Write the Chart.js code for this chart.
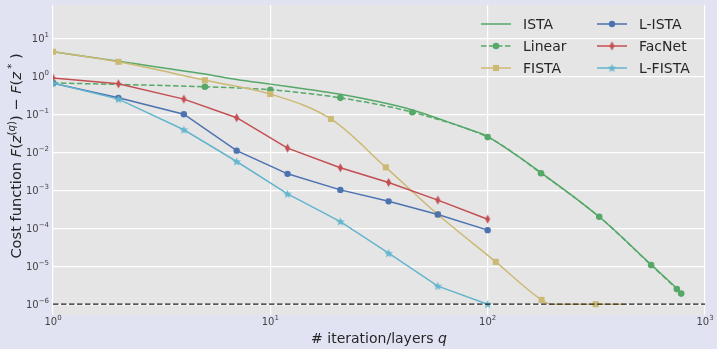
<!DOCTYPE html>
<html>
<head>
<meta charset="utf-8">
<script src="https://cdn.jsdelivr.net/npm/chart.js@4.4.0/dist/chart.umd.min.js"></script>
<style>
  html, body { margin: 0; padding: 0; background: #e1e3f3; }
  #wrap { width: 717px; height: 349px; }
</style>
</head>
<body>
<div id="wrap"><canvas id="costChart" width="717" height="349"></canvas></div>
<script>
// values (log-log axes)
const istaX = [1, 2, 3, 5, 7, 10, 15, 21, 30, 45, 65, 83, 100, 176, 326, 565, 742, 777];
const istaY = [4.4, 2.5, 1.75, 1.15, 0.82, 0.62, 0.45, 0.336, 0.226, 0.13, 0.064, 0.039, 0.026, 0.0029, 2.0e-4, 1.1e-5, 2.6e-6, 1.8e-6];

const linearX = [1, 5, 10, 21, 45, 100, 176, 326, 565, 742, 777];
const linearY = [0.67, 0.53, 0.44, 0.27, 0.113, 0.025, 0.0028, 2.0e-4, 1.07e-5, 2.5e-6, 1.9e-6];

const fistaX = [1, 2, 5, 10, 19, 34, 59, 109, 177, 195, 314, 437];
const fistaY = [4.4, 2.4, 0.785, 0.34, 0.075, 0.004, 2.3e-4, 1.3e-5, 1.3e-6, 1.0e-6, 1.0e-6, 1.0e-6];
const fistaMarks = [1, 2, 5, 10, 19, 34, 59, 109, 177, 314];

// learned networks share the layer grid
const layersX = [1, 2, 4, 7, 12, 21, 35, 59, 100];
const listaY = [0.65, 0.27, 0.1, 0.011, 0.0027, 0.00102, 5.1e-4, 2.3e-4, 8.9e-5];
const facnetY = [0.9, 0.63, 0.25, 0.081, 0.0128, 0.0039, 0.0016, 5.5e-4, 1.73e-4];
const lfistaY = [0.66, 0.25, 0.039, 0.0057, 8.0e-4, 1.5e-4, 2.2e-5, 3.0e-6, 1.0e-6];

const targetLevel = 1e-6;
const xRange = [1, 1000];
const yRange = [5.2e-7, 75];
const xTicks = [1, 10, 100, 1000];
const yTicks = [1e-6, 1e-5, 1e-4, 1e-3, 1e-2, 1e-1, 1, 10];

const FONT = '"DejaVu Sans", sans-serif';
const TXT = '#262626';

function pts(xs, ys) { return xs.map((x, i) => ({ x: x, y: ys[i] })); }

// little marker images (matplotlib-like thin diamond and filled star)
function diamondImg(color) {
  const c = document.createElement('canvas');
  c.width = 7; c.height = 11;
  const g = c.getContext('2d');
  g.fillStyle = color;
  g.beginPath();
  g.moveTo(3.5, 1); g.lineTo(6, 5.5); g.lineTo(3.5, 10); g.lineTo(1, 5.5);
  g.closePath(); g.fill();
  return c;
}
function starImg(color) {
  const c = document.createElement('canvas');
  c.width = 11; c.height = 11;
  const g = c.getContext('2d');
  g.fillStyle = color;
  g.beginPath();
  for (let i = 0; i < 10; i++) {
    const r = i % 2 ? 1.9 : 4.6;
    const a = -Math.PI / 2 + i * Math.PI / 5;
    const px = 5.5 + r * Math.cos(a), py = 5.8 + r * Math.sin(a);
    i ? g.lineTo(px, py) : g.moveTo(px, py);
  }
  g.closePath(); g.fill();
  return c;
}

const green = '#55a868', yellow = '#ccb974', blue = '#4c72b0', red = '#c44e52', cyan = '#64b5cd';

const series = [
  { label: 'ISTA', data: pts(istaX, istaY), borderColor: green, backgroundColor: green,
    pointRadius: 0, tension: 0.35 },
  { label: 'Linear', data: pts(linearX, linearY), borderColor: green, backgroundColor: green,
    borderDash: [5.5, 2.5], pointRadius: 3.3, pointStyle: 'circle', tension: 0.3 },
  { label: 'FISTA', data: pts(fistaX, fistaY), borderColor: yellow, backgroundColor: yellow,
    pointStyle: 'rect', cubicInterpolationMode: 'monotone',
    pointRadius: (c) => fistaMarks.includes(fistaX[c.dataIndex]) ? 4.3 : 0 },
  { label: 'L-ISTA', data: pts(layersX, listaY), borderColor: blue, backgroundColor: blue,
    pointRadius: 3.2, pointStyle: 'circle' },
  { label: 'FacNet', data: pts(layersX, facnetY), borderColor: red, backgroundColor: red,
    pointRadius: 4, pointStyle: diamondImg(red) },
  { label: 'L-FISTA', data: pts(layersX, lfistaY), borderColor: cyan, backgroundColor: cyan,
    pointRadius: 4, pointStyle: starImg(cyan) },
];

const datasets = series.map((s, i) => Object.assign({
  showLine: true, borderWidth: 1.5, pointBorderWidth: 0, pointHoverRadius: 0,
  order: series.length - i + 1, legendName: s.label
}, s));
datasets.push({
  label: 'target', data: pts(xRange, [targetLevel, targetLevel]), showLine: true,
  borderColor: '#222', borderWidth: 1.3, borderDash: [5.5, 2.5], pointRadius: 0, order: 0
});

function supParts(exp) {
  return String(exp).replace('-', '\u2212');
}

const decor = {
  id: 'decor',
  beforeDraw(chart) {
    const { ctx, chartArea: a } = chart;
    ctx.save();
    ctx.fillStyle = '#e1e3f3';
    ctx.fillRect(0, 0, chart.width, chart.height);
    ctx.fillStyle = '#e5e5e5';
    ctx.fillRect(a.left, a.top, a.right - a.left, a.bottom - a.top);
    ctx.restore();
  },
  afterDraw(chart) {
    const { ctx, chartArea: a } = chart;
    const xs = chart.scales.x, ys = chart.scales.y;
    ctx.save();
    ctx.fillStyle = '#444';
    ctx.textBaseline = 'middle';
    ctx.textAlign = 'left';
    // y tick labels: 10^n
    yTicks.forEach(v => {
      const py = ys.getPixelForValue(v);
      const e = supParts(Math.round(Math.log10(v)));
      ctx.font = '10px ' + FONT; const wb = ctx.measureText('10').width;
      ctx.font = '7px ' + FONT; const we = ctx.measureText(e).width;
      const x0 = a.left - 4 - wb - we;
      ctx.font = '10px ' + FONT; ctx.fillText('10', x0, py + 1);
      ctx.font = '7px ' + FONT; ctx.fillText(e, x0 + wb, py - 3);
    });
    // x tick labels
    xTicks.forEach(v => {
      const px = xs.getPixelForValue(v);
      const e = supParts(Math.round(Math.log10(v)));
      ctx.font = '10px ' + FONT; const wb = ctx.measureText('10').width;
      ctx.font = '7px ' + FONT; const we = ctx.measureText(e).width;
      const x0 = px - (wb + we) / 2;
      ctx.font = '10px ' + FONT; ctx.fillText('10', x0, a.bottom + 7);
      ctx.font = '7px ' + FONT; ctx.fillText(e, x0 + wb, a.bottom + 3);
    });

    // axis titles
    ctx.fillStyle = TXT;
    ctx.textBaseline = 'alphabetic';
    drawRich(ctx, [{ t: '# iteration/layers ' }, { t: 'q', it: true }], (a.left + a.right) / 2, 343, 14);
    ctx.save();
    ctx.translate(21, 156);
    ctx.rotate(-Math.PI / 2);
    drawRich(ctx, [
      { t: 'Cost function ' }, { t: 'F', it: true }, { t: '(' }, { t: 'z', it: true },
      { t: '(', sup: true }, { t: 'q', it: true, sup: true }, { t: ')', sup: true },
      { t: ') ' }, { t: '\u2212' }, { t: ' ' }, { t: 'F', it: true }, { t: '(' }, { t: 'z', it: true },
      { t: ' *', sup: true }, { t: ' )' }
    ], 0, 0, 14.6);
    ctx.restore();

    // legend, two columns inside the axes
    const cols = [[0, 1, 2], [3, 4, 5]];
    const colX = [a.right - 224, a.right - 108];
    const rowY = [a.top + 19, a.top + 41, a.top + 63];
    cols.forEach((col, ci) => col.forEach((di, ri) => {
      const ds = chart.data.datasets[di];
      const x0 = colX[ci], y0 = rowY[ri];
      ctx.save();
      ctx.strokeStyle = ds.borderColor;
      ctx.lineWidth = 1.5;
      ctx.setLineDash(ds.borderDash || []);
      ctx.beginPath(); ctx.moveTo(x0, y0); ctx.lineTo(x0 + 30, y0); ctx.stroke();
      ctx.setLineDash([]);
      const r = typeof ds.pointRadius === 'function' ? 4.3 : ds.pointRadius;
      if (r > 0) {
        ctx.fillStyle = ds.backgroundColor;
        Chart.helpers.drawPoint(ctx, { pointStyle: ds.pointStyle, radius: r, rotation: 0, borderWidth: 0 }, x0 + 15, y0);
      }
      ctx.restore();
      ctx.font = '14px ' + FONT;
      ctx.fillStyle = TXT;
      ctx.textBaseline = 'middle';
      ctx.fillText(ds.legendName, x0 + 42, y0 + 1);
    }));
    ctx.restore();
  }
};

function drawRich(ctx, parts, cx, baseY, size) {
  const fontFor = p => (p.it ? 'oblique ' : '') + (p.sup ? size * 0.7 : size) + 'px ' + FONT;
  let total = 0;
  parts.forEach(p => { ctx.font = fontFor(p); p.w = ctx.measureText(p.t).width; total += p.w; });
  let x = cx - total / 2;
  ctx.textAlign = 'left';
  parts.forEach(p => {
    ctx.font = fontFor(p);
    ctx.fillText(p.t, x, baseY + (p.sup ? -size * 0.42 : 0));
    x += p.w;
  });
}

const gridStyle = { color: '#ffffff', lineWidth: 1.2, drawTicks: false };

new Chart(document.getElementById('costChart'), {
  type: 'scatter',
  data: { datasets: datasets },
  options: {
    responsive: false,
    animation: false,
    devicePixelRatio: 1,
    layout: { padding: { top: 5, right: 12, left: 0, bottom: 0 } },
    plugins: { legend: { display: false }, tooltip: { enabled: false } },
    scales: {
      x: {
        type: 'logarithmic', min: xRange[0], max: xRange[1],
        grid: gridStyle, border: { display: false },
        ticks: { display: false },
        afterBuildTicks: (s) => { s.ticks = xTicks.map(v => ({ value: v })); },
        afterFit: (s) => { s.height = 34; }
      },
      y: {
        type: 'logarithmic', min: yRange[0], max: yRange[1],
        grid: gridStyle, border: { display: false },
        ticks: { display: false },
        afterBuildTicks: (s) => { s.ticks = yTicks.map(v => ({ value: v })); },
        afterFit: (s) => { s.width = 53; }
      }
    }
  },
  plugins: [decor]
});
</script>
</body>
</html>
